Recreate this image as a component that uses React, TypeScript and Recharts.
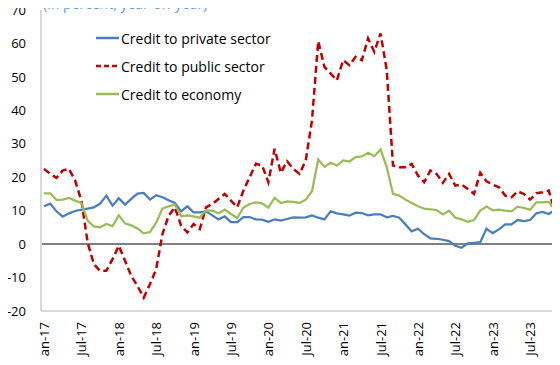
import React from 'react';
import { LineChart, Line, XAxis, YAxis, ReferenceLine, Legend } from 'recharts';

const monthNames = ['Jan', 'Feb', 'Mar', 'Apr', 'May', 'Jun', 'Jul', 'Aug', 'Sep', 'Oct', 'Nov', 'Dec'];
const years = ['17', '18', '19', '20', '21', '22', '23', '24'];

// Jan-17 .. Jan-24
const months = years.flatMap((y) => monthNames.map((m) => `${m}-${y}`)).slice(0, 85);

const yTicks = [-20, -10, 0, 10, 20, 30, 40, 50, 60, 70];

const privateSector = [
  11.3, 12.1, 9.8, 8.2, 9.2, 9.9, 10.3, 10.6, 11, 12.1, 14.5, 11.5,
  13.7, 11.8, 13.5, 15.1, 15.3, 13.3, 14.6, 14, 13.1, 12.3, 9.8, 11.3,
  9.5, 9.5, 9.8, 8.6, 7.4, 8.3, 6.6, 6.6, 8.1, 8.1, 7.4, 7.3,
  6.7, 7.4, 7, 7.5, 8, 7.9, 8, 8.6, 7.9, 7.4, 9.8, 9.2,
  8.9, 8.5, 9.4, 9.3, 8.6, 8.9, 8.9, 8, 8.4, 7.9, 5.9, 3.8,
  4.6, 3, 1.7, 1.6, 1.3, 0.9, -0.5, -1.1, 0.2, 0.4, 0.6, 4.6,
  3.3, 4.4, 5.9, 5.9, 7.2, 6.9, 7.2, 9.2, 9.6, 9, 10.3, 9.4,
  9.5,
];

const publicSector = [
  22.5, 21, 19.8, 22, 22.5, 19, 13, 0.5, -6, -8, -8, -4.5,
  -0.5, -5, -9.5, -12.5, -16, -12, -7.5, 3, 8.5, 11, 5.5, 3.5,
  6, 4.5, 11, 12, 13.5, 15, 13, 11, 16, 20, 24, 23.5,
  18.5, 28.5, 21.3, 24.8, 22.5, 21, 25, 37, 60.7, 53, 51, 49,
  55, 53.5, 56, 55, 61.5, 57.5, 63, 52, 23.5, 23, 23, 24,
  20.5, 18.5, 22, 21, 18.3, 21, 17.5, 17.8, 16.5, 15, 21.3, 18.8,
  17.8, 17, 14.5, 14, 15.8, 15, 13.3, 15.2, 15.5, 16, 9.5, 12,
  11,
];

const economy = [
  15.2, 15.2, 13.2, 13.3, 13.8, 13, 12.3, 7, 5.3, 5, 6, 5.4,
  8.6, 6.2, 5.6, 4.7, 3.2, 3.6, 6.4, 10.6, 11.3, 11.8, 8.3, 8.6,
  8.3, 7.9, 10.1, 10, 9.2, 10.3, 9, 7.8, 10.9, 12, 12.5, 12.2,
  10.9, 13.8, 12.3, 12.8, 12.6, 12.3, 13.3, 15.8, 25.3, 23.1, 24.3, 23.5,
  25, 24.7, 26, 26.2, 27.3, 26.3, 28.3, 23, 15, 14.5, 13.3, 12.3,
  11.3, 10.6, 10.4, 10.2, 8.9, 10, 7.9, 7.4, 6.7, 7.2, 10, 11.2,
  10.1, 10.3, 10, 9.8, 11.2, 10.8, 10.3, 12.5, 12.5, 12.6, 10.2, 10.4,
  10.8,
];

const data = months.map((month, i) => ({
  month,
  privateSector: privateSector[i],
  publicSector: publicSector[i],
  economy: economy[i],
}));

const FONT = '"Open Sans", "Noto Sans", sans-serif';
const BLUE = '#4a7ebb';
const RED = '#c00000';
const GREEN = '#9bbb59';

const legendItems = [
  { label: 'Credit to private sector', color: BLUE, dash: undefined },
  { label: 'Credit to public sector', color: RED, dash: '5 3' },
  { label: 'Credit to economy', color: GREEN, dash: undefined },
];

const renderLegend = () => (
  <div style={{ fontFamily: FONT, fontSize: 14, color: '#000' }}>
    {legendItems.map((item) => (
      <div key={item.label} style={{ display: 'flex', alignItems: 'center', height: 28, whiteSpace: 'nowrap' }}>
        <svg width={24} height={4} style={{ display: 'block' }}>
          <line x1={0} y1={2} x2={23} y2={2} stroke={item.color} strokeWidth={2.5} strokeDasharray={item.dash} />
        </svg>
        <span style={{ marginLeft: 1 }}>{item.label}</span>
      </div>
    ))}
  </div>
);

const MonthTick = ({ x, y, payload }: any) => (
  <text
    x={x}
    y={y}
    transform={`rotate(-90, ${x}, ${y})`}
    textAnchor="end"
    dominantBaseline="central"
    fontSize={13}
    fontFamily={FONT}
    fill="#000"
  >
    {payload.value}
  </text>
);

export default function App() {
  return (
    <div style={{ margin: -8, width: 560, height: 365, overflow: 'hidden', position: 'relative', background: '#fff' }}>
      <div
        style={{
          position: 'absolute',
          top: -4,
          left: 43,
          zIndex: 2,
          fontFamily: FONT,
          fontSize: 14,
          lineHeight: '16px',
          color: '#5b9bd5',
          whiteSpace: 'nowrap',
        }}
      >
        (in percent, year-on-year)
      </div>
      <LineChart width={576} height={365} data={data} margin={{ top: 10, right: 5, bottom: 0, left: 0 }}>
        <XAxis
          dataKey="month"
          interval={5}
          height={54}
          padding={{ left: 3, right: 3.5 }}
          axisLine={{ stroke: '#d9d9d9', strokeWidth: 2 }}
          tickLine={false}
          tickMargin={5}
          tick={<MonthTick />}
        />
        <YAxis
          type="number"
          domain={[-20, 70]}
          ticks={yTicks}
          interval={0}
          width={41}
          axisLine={{ stroke: '#d9d9d9', strokeWidth: 2 }}
          tickLine={false}
          tickMargin={9}
          tick={{ fontSize: 13, fill: '#000', fontFamily: FONT }}
        />
        <ReferenceLine y={0} stroke="#808080" strokeWidth={2} />
        <Legend
          layout="vertical"
          align="center"
          verticalAlign="middle"
          content={renderLegend}
          wrapperStyle={{ top: 24, left: 96, width: 'auto', height: 'auto' }}
        />
        <Line
          type="linear"
          dataKey="privateSector"
          stroke={BLUE}
          strokeWidth={2.25}
          dot={false}
          isAnimationActive={false}
        />
        <Line
          type="linear"
          dataKey="publicSector"
          stroke={RED}
          strokeWidth={2.5}
          strokeDasharray="7 4"
          dot={false}
          isAnimationActive={false}
        />
        <Line
          type="linear"
          dataKey="economy"
          stroke={GREEN}
          strokeWidth={2.25}
          dot={false}
          isAnimationActive={false}
        />
      </LineChart>
    </div>
  );
}
